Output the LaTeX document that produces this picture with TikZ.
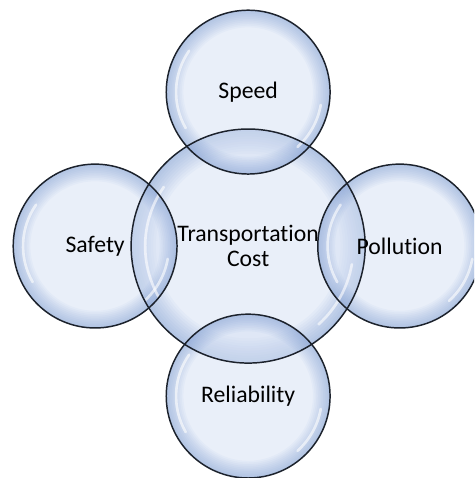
\documentclass[tikz,border=0pt]{standalone}
\usepackage{fontspec}
\setmainfont{Carlito}[Ligatures={NoCommon,NoContextual}]
\usepackage{tikz}
\usetikzlibrary{positioning,backgrounds}
\usepackage{xcolor}
\definecolor{bubin}{RGB}{212,223,243}
\definecolor{bubout}{RGB}{112,146,206}
\definecolor{bubrim}{RGB}{28,34,44}
\tikzstyle{bubtext} = [font=\fontsize{22.5}{24}\selectfont, align=center, text=black]
\tikzstyle{glass} = [fill=bubin, fill opacity=0.5]
\tikzstyle{tint} = [fill=bubout, fill opacity=0.055, even odd rule]
\tikzstyle{rim} = [draw=bubrim, line width=1.4pt]
\tikzstyle{shine} = [white, line width=2.5pt, line cap=round, opacity=0.6]

\begin{document}
\begin{tikzpicture}
    \useasboundingbox (-8.27,-7.73) rectangle (7.53,8.2);

    % Labels
    \node[bubtext] (cost) at (0,0) {Transportation\\Cost};
    \node[bubtext] (speed) at (0,5.13) {Speed};
    \node[bubtext] (safety) at (-5.1,0) {Safety};
    \node[bubtext] (pollution) at (5.05,0) {Pollution};
    \node[bubtext] (reliab) at (0,-5.0) {Reliability};

    % Bubbles behind the labels
    \begin{scope}[on background layer]
        \clip (-8.27,-7.73) rectangle (7.53,8.2);
        \foreach \n/\r in {cost/3.9, speed/2.73, safety/2.73, pollution/2.73, reliab/2.73} {
            \fill[glass] (\n.center) circle (\r);
            % blue rim fading inwards
            \foreach \k in {1,...,10}
                \fill[tint] (\n.center) circle (\r) (\n.center) circle ({\r*(1-0.021*\k)});
        }
        % Glare on the glass
        \foreach \n/\r in {cost/3.9, speed/2.73, safety/2.73, pollution/2.73, reliab/2.73} {
            \draw[shine] (\n.center) ++(145:0.88*\r) arc[start angle=145, end angle=210, radius=0.88*\r];
            \draw[shine] (\n.center) ++(-48:0.9*\r) arc[start angle=-48, end angle=-10, radius=0.9*\r];
        }
        \foreach \n/\r in {cost/3.9, speed/2.73, safety/2.73, pollution/2.73, reliab/2.73}
            \draw[rim] (\n.center) circle (\r);
    \end{scope}
\end{tikzpicture}
\end{document}
